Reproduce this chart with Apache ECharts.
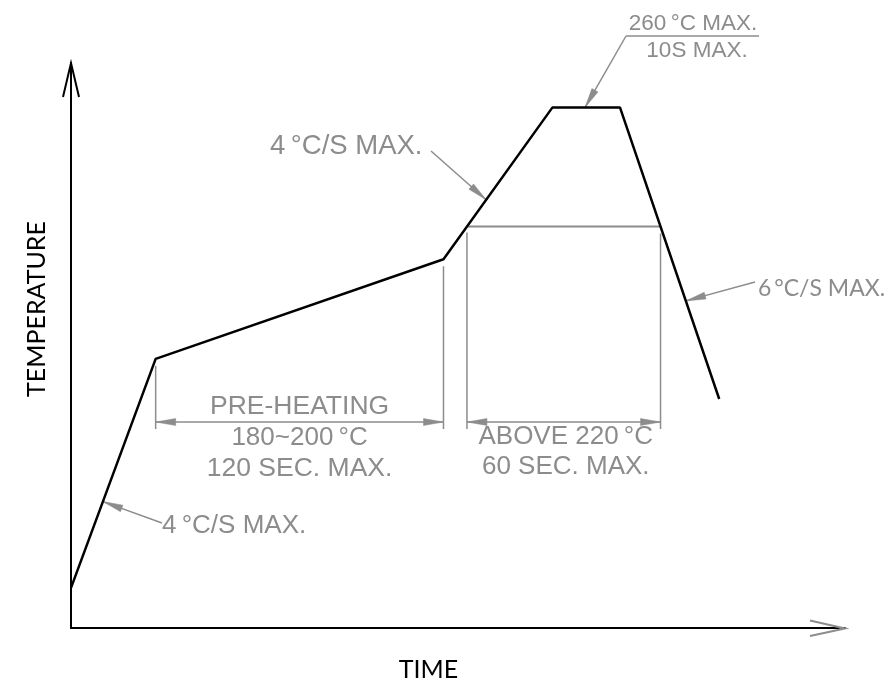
<!DOCTYPE html>
<html>
<head>
<meta charset="utf-8">
<script src="https://cdn.jsdelivr.net/npm/echarts@6/dist/echarts.min.js"></script>
<style>
html,body{margin:0;padding:0;background:#fff;}
#chart{width:892px;height:686px;}
</style>
</head>
<body>
<div id="chart"></div>
<script>
// ---- data (schematic reflow profile, time in s, temperature in °C) ----
const profileTime = [0, 35, 154, 199, 227, 268];
const profileTemp = [98.5, 175.5, 209, 260, 260, 162];
const reflowTemp = 220;
const axisTitles = ['TIME', 'TEMPERATURE'];
const preheatLabels = ['PRE-HEATING', '180~200\u2009°C', '120 SEC. MAX.'];
const reflowLabels = ['ABOVE 220\u2009°C', '60 SEC. MAX.'];
const peakLabels = ['260\u2009°C MAX.', '10S MAX.'];
const rampUpLabel = '4\u2009°C/S MAX.';
const rampDownLabel = '6\u2009°C/S MAX.';

const GRAY = '#8c8c8c';
const ARIAL = '"Liberation Sans", Arial, sans-serif';
const GEO = 'Lato, "Noto Sans", sans-serif';

const chart = echarts.init(document.getElementById('chart'), null, {renderer: 'canvas'});

const profile = profileTime.map((t, i) => [t, profileTemp[i]]);

chart.setOption({
  animation: false,
  backgroundColor: '#fff',
  grid: {left: 71, right: 47, top: 63, bottom: 58},
  xAxis: {
    type: 'value', min: 0, max: 320,
    axisLine: {show: true, lineStyle: {color: '#000', width: 2}},
    axisTick: {show: false}, axisLabel: {show: false}, splitLine: {show: false}
  },
  yAxis: {
    type: 'value', min: 85, max: 275,
    axisLine: {show: true, lineStyle: {color: '#000', width: 2}},
    axisTick: {show: false}, axisLabel: {show: false}, splitLine: {show: false}
  },
  series: [{
    type: 'line', data: profile, symbol: 'none',
    lineStyle: {color: '#000', width: 2.5}, z: 5
  }]
});

// helpers
const px = (t, T) => chart.convertToPixel({gridIndex: 0}, [t, T]);
function interpTime(i, T) {
  const t0 = profileTime[i], t1 = profileTime[i + 1];
  const a = profileTemp[i], b = profileTemp[i + 1];
  return t0 + (T - a) / (b - a) * (t1 - t0);
}
function line(p1, p2, color, w) {
  return {type: 'line', shape: {x1: p1[0], y1: p1[1], x2: p2[0], y2: p2[1]},
    style: {stroke: color, lineWidth: w}, silent: true, z: 3};
}
function polyline(pts, color, w) {
  return {type: 'polyline', shape: {points: pts}, style: {stroke: color, lineWidth: w, fill: null}, silent: true, z: 3};
}
function head(tip, from, len, hw) {
  const dx = tip[0] - from[0], dy = tip[1] - from[1];
  const d = Math.hypot(dx, dy), ux = dx / d, uy = dy / d;
  const bx = tip[0] - ux * len, by = tip[1] - uy * len;
  return {type: 'polygon', shape: {points: [tip, [bx - uy * hw, by + ux * hw], [bx + uy * hw, by - ux * hw]]},
    style: {fill: GRAY, stroke: GRAY, lineWidth: 0.5}, silent: true, z: 4};
}
function leader(from, tip) {
  return [line(from, tip, GRAY, 1.5), head(tip, from, 20, 3.5)];
}
function text(str, x, y, size, opts) {
  opts = opts || {};
  return {type: 'text', x: x, y: y, rotation: opts.rotation || 0, silent: true, z: 6,
    style: {text: str, fill: opts.color || GRAY, font: size + 'px ' + (opts.font || ARIAL),
      align: opts.align || 'center', verticalAlign: 'middle'}};
}

const g = [];
// axis arrows
const yTop = px(0, 275), xEnd = px(320, 85);
g.push(polyline([[yTop[0] - 8, yTop[1] + 34], yTop, [yTop[0] + 8, yTop[1] + 34]], '#000', 2));
g.push(polyline([[xEnd[0] - 35, xEnd[1] - 7.5], [xEnd[0], xEnd[1] + 0.5], [xEnd[0] - 35, xEnd[1] + 8]], GRAY, 2));

// reflow horizontal (220 °C)
const tUp = interpTime(2, reflowTemp), tDown = interpTime(4, reflowTemp);
const rA = px(tUp, reflowTemp), rB = px(tDown, reflowTemp);
g.push(line(rA, rB, GRAY, 2));

// dimension lines
const dimY = 422, extEnd = 429;
const pS = px(profileTime[1], profileTemp[1]), pE = px(profileTime[2], profileTemp[2]);
g.push(line([pS[0], pS[1] + 7], [pS[0], extEnd], GRAY, 1.5));
g.push(line([pE[0], pE[1] + 7], [pE[0], extEnd], GRAY, 1.5));
g.push(line([pS[0], dimY], [pE[0], dimY], GRAY, 1.5));
g.push(head([pS[0], dimY], [pE[0], dimY], 20, 3.5));
g.push(head([pE[0], dimY], [pS[0], dimY], 20, 3.5));

g.push(line([rA[0], rA[1] + 6], [rA[0], extEnd], GRAY, 1.5));
g.push(line([rB[0], rB[1] + 7], [rB[0], extEnd], GRAY, 1.5));
g.push(line([rA[0], dimY], [rB[0], dimY], GRAY, 1.5));
g.push(head([rA[0], dimY], [rB[0], dimY], 20, 3.5));
g.push(head([rB[0], dimY], [rA[0], dimY], 20, 3.5));

// dimension texts
const cPre = (pS[0] + pE[0]) / 2;
g.push(text(preheatLabels[0], cPre, 407, 26.5));
g.push(text(preheatLabels[1], cPre, 438, 26));
g.push(text(preheatLabels[2], cPre, 469, 26.5));
const cRef = (rA[0] + rB[0]) / 2 + 2;
g.push(text(reflowLabels[0], cRef, 437, 26));
g.push(text(reflowLabels[1], cRef, 467, 26));

// lower ramp leader
const lowTip = px(interpTime(0, 127.5), 127.5);
g.push(...leader([162, 523], lowTip));
g.push(text(rampUpLabel, 162, 526, 26, {align: 'left'}));

// upper ramp leader
const upTip = px(interpTime(2, 229), 229);
g.push(...leader([431, 151], upTip));
g.push(text(rampUpLabel, 270, 146, 27.5, {align: 'left'}));

// peak leader
const pkTip = px((profileTime[3] + profileTime[4]) / 2 - 0.5, profileTemp[3]);
g.push(line([626, 36], [759, 36], GRAY, 1.5));
g.push(...leader([626, 36], pkTip));
g.push(text(peakLabels[0], 693, 24, 22.5));
g.push(text(peakLabels[1], 697, 51, 22.5));

// ramp-down leader
const dnTip = px(interpTime(4, 195), 195);
g.push(...leader([755, 282], dnTip));
g.push(text(rampDownLabel, 758, 289, 23, {align: 'left', font: GEO}));

// axis titles
g.push(text(axisTitles[0], 428.5, 669.5, 25, {color: '#000', font: GEO}));
g.push(text(axisTitles[1], 37, 309, 25, {color: '#000', font: GEO, rotation: Math.PI / 2}));

chart.setOption({graphic: {elements: g}});
</script>
</body>
</html>
